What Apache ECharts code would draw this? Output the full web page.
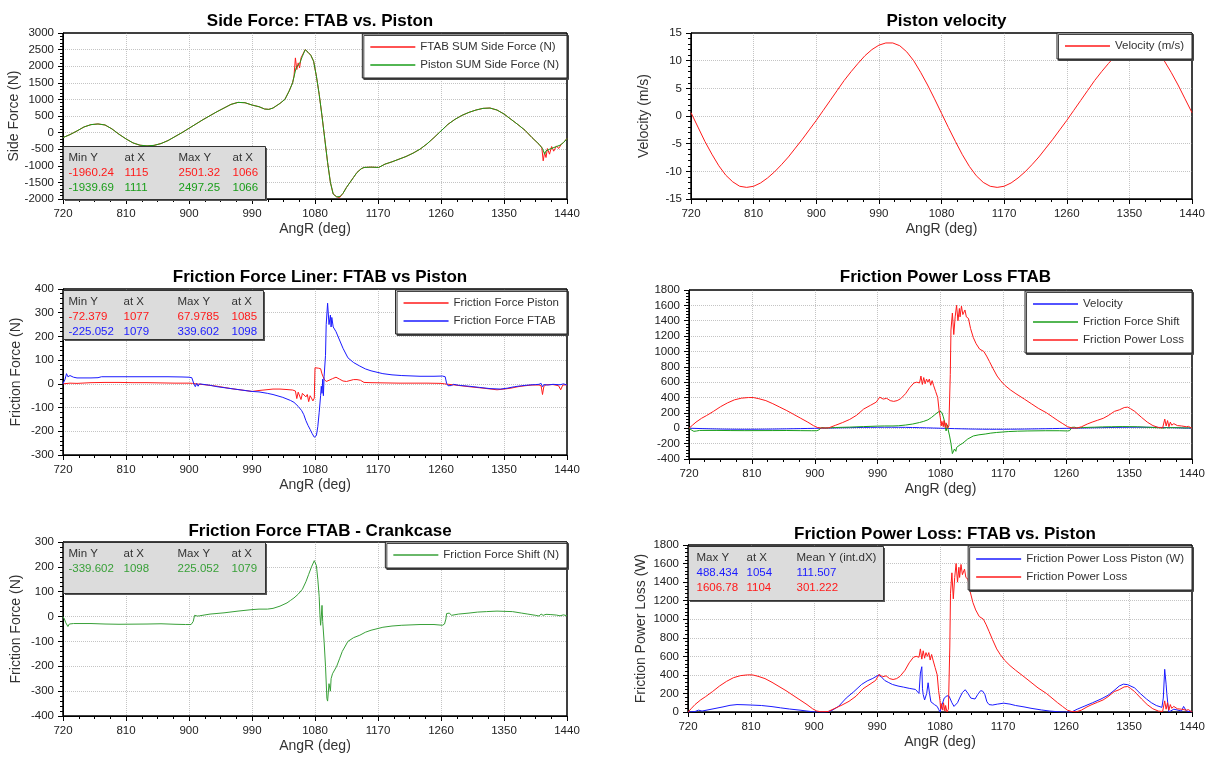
<!DOCTYPE html>
<html lang="en">
<head>
<meta charset="UTF-8">
<title>FTAB vs Piston</title>
<script src="https://cdn.jsdelivr.net/npm/echarts@6/dist/echarts.min.js"></script>
</head>
<body style="margin:0">
<div id="main" style="width:1214px;height:758px;"></div>
<script type="text/javascript">
// data: [AngR (deg), value]
var sideFtab = [[720,-150],[730,-60],[740,50],[750,170],[760,240],[770,260],[780,230],[790,110],[800,-50],[810,-190],[820,-310],[830,-380],[840,-400],[850,-385],[860,-330],[870,-240],[880,-120],[890,0],[900,130],[910,260],[920,390],[930,510],[940,630],[950,740],[960,850],[970,910],[980,900],[990,830],[1000,780],[1008,710],[1014,700],[1020,740],[1030,880],[1037,1000],[1043,1250],[1048,1500],[1050,1700],[1052,2250],[1054,1900],[1056,2100],[1058,1950],[1060,2250],[1062,2300],[1066,2501],[1070,2420],[1074,2330],[1078,2150],[1082,1700],[1086,1150],[1090,500],[1094,-200],[1098,-900],[1102,-1500],[1106,-1850],[1111,-1930],[1115,-1960],[1120,-1830],[1125,-1650],[1130,-1500],[1135,-1350],[1140,-1200],[1146,-1090],[1150,-1050],[1160,-1040],[1171,-1050],[1180,-950],[1190,-880],[1200,-800],[1210,-720],[1220,-620],[1230,-500],[1240,-340],[1250,-150],[1260,50],[1270,250],[1280,400],[1290,520],[1300,610],[1310,680],[1320,730],[1330,740],[1340,680],[1350,560],[1360,400],[1370,240],[1380,70],[1390,-150],[1400,-350],[1404,-450],[1406,-850],[1408,-600],[1410,-750],[1412,-480],[1415,-650],[1418,-420],[1421,-560],[1425,-400],[1428,-480],[1432,-350],[1435,-300],[1440,-180]];
var sidePiston = [[720,-150],[730,-60],[740,50],[750,170],[760,240],[770,260],[780,230],[790,110],[800,-50],[810,-190],[820,-310],[830,-380],[840,-400],[850,-385],[860,-330],[870,-240],[880,-120],[890,0],[900,130],[910,260],[920,390],[930,510],[940,630],[950,740],[960,850],[970,910],[980,900],[990,830],[1000,780],[1008,710],[1014,700],[1020,740],[1030,880],[1037,1000],[1043,1250],[1048,1500],[1053,1950],[1058,2080],[1062,2300],[1066,2497],[1070,2420],[1074,2330],[1078,2150],[1082,1700],[1086,1150],[1090,500],[1094,-200],[1098,-900],[1102,-1500],[1106,-1850],[1111,-1940],[1116,-1920],[1120,-1830],[1125,-1650],[1130,-1500],[1135,-1350],[1140,-1200],[1146,-1090],[1150,-1050],[1160,-1040],[1171,-1050],[1180,-950],[1190,-880],[1200,-800],[1210,-720],[1220,-620],[1230,-500],[1240,-340],[1250,-150],[1260,50],[1270,250],[1280,400],[1290,520],[1300,610],[1310,680],[1320,730],[1330,740],[1340,680],[1350,560],[1360,400],[1370,240],[1380,70],[1390,-150],[1400,-350],[1405,-480],[1408,-650],[1410,-550],[1415,-500],[1420,-460],[1425,-420],[1430,-380],[1435,-300],[1440,-180]];

var velocity = [[720,0.6],[730,-2.0],[740,-4.6],[750,-6.9],[760,-9.0],[770,-10.7],[780,-11.9],[790,-12.7],[800,-12.9],[810,-12.7],[820,-12.1],[830,-11.2],[840,-10.1],[850,-8.8],[860,-7.4],[870,-5.8],[880,-4.2],[890,-2.5],[900,-0.8],[910,1.0],[920,2.8],[930,4.6],[940,6.4],[950,8.0],[960,9.5],[970,10.9],[980,12.0],[990,12.8],[1000,13.2],[1010,13.2],[1020,12.7],[1030,11.6],[1040,10.0],[1050,7.9],[1060,5.6],[1070,3.1],[1080,0.5],[1090,-2.1],[1100,-4.6],[1110,-7.0],[1120,-9.1],[1130,-10.8],[1140,-12.0],[1150,-12.7],[1160,-12.9],[1170,-12.7],[1180,-12.1],[1190,-11.2],[1200,-10.1],[1210,-8.8],[1220,-7.4],[1230,-5.8],[1240,-4.2],[1250,-2.5],[1260,-0.8],[1270,1.0],[1280,2.8],[1290,4.6],[1300,6.4],[1310,8.0],[1320,9.5],[1330,10.9],[1340,12.0],[1350,12.8],[1360,13.2],[1370,13.2],[1380,12.7],[1390,11.6],[1400,10.0],[1410,7.9],[1420,5.6],[1430,3.1],[1440,0.6]];

var fricPiston = [[720,0],[730,3],[740,2],[760,5],[780,6],[800,6],[820,5],[840,5],[860,4],[880,3],[900,3],[905,2],[910,0],[920,-3],[940,-10],[960,-20],[980,-28],[990,-32],[1000,-28],[1010,-25],[1020,-22],[1030,-22],[1040,-24],[1048,-26],[1052,-30],[1054,-62],[1056,-35],[1058,-28],[1060,-66],[1062,-40],[1064,-35],[1067,-55],[1069,-45],[1071,-75],[1073,-50],[1075,-60],[1077,-72],[1079,-60],[1080,68],[1085,66],[1088,64],[1090,42],[1093,20],[1096,10],[1100,15],[1105,22],[1110,28],[1115,20],[1120,12],[1125,10],[1130,14],[1135,18],[1140,18],[1145,15],[1150,6],[1160,5],[1180,4],[1200,3],[1220,3],[1240,3],[1260,2],[1265,0],[1280,-5],[1300,-12],[1320,-18],[1340,-25],[1350,-22],[1360,-18],[1370,-12],[1380,-8],[1390,-5],[1400,-5],[1403,-8],[1405,-45],[1407,-10],[1410,-4],[1420,-3],[1428,-8],[1431,-25],[1434,-5],[1440,-4]];
var fricFtab = [[720,0],[723,20],[725,43],[727,30],[730,35],[735,28],[740,25],[760,25],[770,26],[775,30],[800,30],[840,30],[870,30],[890,29],[900,28],[904,26],[907,0],[909,-12],[911,2],[913,-10],[915,0],[920,-2],[930,-6],[940,-12],[950,-16],[960,-20],[970,-24],[980,-28],[990,-32],[1000,-34],[1012,-40],[1020,-45],[1034,-57],[1045,-70],[1050,-78],[1056,-95],[1061,-113],[1064,-130],[1067,-155],[1070,-175],[1073,-192],[1076,-210],[1079,-225],[1082,-218],[1084,-180],[1086,-120],[1088,-50],[1089,-10],[1090,-40],[1091,20],[1092,-50],[1093,30],[1095,120],[1096,250],[1098,340],[1100,250],[1102,290],[1103,240],[1104,280],[1106,240],[1110,220],[1115,185],[1120,150],[1127,110],[1135,90],[1144,75],[1152,63],[1160,55],[1177,43],[1190,38],[1204,35],[1230,32],[1250,32],[1262,33],[1266,30],[1268,2],[1270,-8],[1272,0],[1275,-7],[1278,-2],[1285,-6],[1300,-10],[1315,-15],[1330,-20],[1345,-22],[1355,-18],[1365,-12],[1375,-8],[1385,-5],[1395,-3],[1400,-2],[1403,2],[1405,-12],[1407,-3],[1412,-5],[1420,-2],[1430,-4],[1435,0],[1440,-5]];

var fricShift = [[720,0],[722,-10],[724,-25],[727,-40],[729,-30],[731,-35],[735,-28],[740,-28],[760,-28],[780,-30],[800,-31],[840,-30],[860,-29],[880,-31],[895,-32],[903,-32],[906,-20],[908,5],[910,10],[912,2],[915,3],[930,10],[950,15],[970,22],[990,28],[1000,30],[1012,30],[1020,33],[1030,42],[1040,55],[1045,65],[1050,75],[1056,90],[1062,110],[1067,140],[1071,170],[1075,200],[1079,225],[1082,205],[1084,150],[1086,80],[1087,10],[1088,-35],[1089,0],[1090,45],[1091,-20],[1093,-100],[1095,-200],[1097,-330],[1098,-340],[1100,-270],[1102,-300],[1103,-250],[1105,-230],[1108,-215],[1111,-200],[1115,-170],[1119,-140],[1127,-100],[1135,-85],[1144,-75],[1152,-63],[1160,-55],[1177,-43],[1190,-38],[1204,-35],[1230,-32],[1250,-32],[1262,-35],[1265,-30],[1267,-10],[1268,12],[1270,5],[1272,14],[1275,5],[1285,10],[1300,14],[1312,18],[1325,20],[1340,22],[1350,21],[1362,20],[1375,14],[1384,10],[1395,5],[1400,2],[1403,10],[1406,5],[1410,9],[1417,8],[1425,6],[1430,3],[1435,7],[1440,3]];

var powerLoss = [[720,0],[725,40],[730,80],[738,130],[745,165],[755,220],[765,280],[775,330],[785,370],[795,392],[805,400],[812,400],[820,385],[830,360],[840,320],[850,275],[860,230],[870,180],[880,130],[890,80],[898,35],[904,10],[910,3],[920,5],[930,40],[940,75],[950,115],[960,170],[970,250],[980,300],[988,340],[993,405],[998,380],[1003,390],[1008,360],[1013,350],[1018,360],[1023,385],[1030,450],[1036,530],[1042,590],[1046,600],[1050,590],[1052,680],[1054,570],[1056,660],[1058,580],[1060,640],[1062,600],[1064,640],[1066,560],[1068,620],[1070,560],[1073,480],[1076,400],[1078,230],[1080,120],[1081,30],[1082,90],[1084,20],[1085,100],[1087,10],[1088,70],[1090,0],[1092,30],[1094,700],[1095,1280],[1097,1500],[1099,1220],[1101,1450],[1103,1600],[1104,1607],[1105,1400],[1107,1560],[1108,1450],[1110,1590],[1112,1480],[1115,1540],[1117,1450],[1120,1430],[1123,1300],[1127,1180],[1131,1100],[1136,1030],[1142,1000],[1146,940],[1150,870],[1155,780],[1161,680],[1166,620],[1172,560],[1180,500],[1188,450],[1200,380],[1210,320],[1220,260],[1232,200],[1240,150],[1248,100],[1255,60],[1262,20],[1268,5],[1275,3],[1282,20],[1290,55],[1297,80],[1305,105],[1313,130],[1320,165],[1329,220],[1336,240],[1343,270],[1348,275],[1352,255],[1358,220],[1368,140],[1376,80],[1384,35],[1392,10],[1398,5],[1401,120],[1403,30],[1405,100],[1407,20],[1409,80],[1411,40],[1414,60],[1419,35],[1425,30],[1432,20],[1435,25],[1440,0]];
var powerLossPiston = [[720,0],[730,5],[735,20],[740,10],[750,25],[760,40],[770,55],[780,72],[790,80],[800,78],[810,75],[825,70],[840,58],[852,45],[865,32],[880,20],[890,10],[896,5],[902,0],[918,0],[924,10],[935,60],[946,150],[957,220],[968,297],[976,335],[984,362],[992,398],[996,380],[1001,340],[1006,320],[1012,297],[1020,280],[1028,268],[1036,255],[1045,243],[1050,200],[1052,420],[1054,488],[1055,250],[1056,188],[1058,130],[1061,200],[1063,315],[1065,200],[1067,110],[1072,80],[1076,60],[1078,30],[1080,0],[1083,80],[1086,150],[1090,175],[1093,170],[1097,100],[1100,60],[1102,50],[1105,100],[1108,150],[1112,210],[1116,240],[1120,200],[1124,150],[1130,140],[1134,190],[1138,230],[1141,225],[1144,190],[1147,110],[1150,80],[1155,75],[1162,85],[1171,95],[1180,85],[1188,70],[1200,55],[1210,40],[1225,22],[1237,10],[1250,2],[1258,0],[1268,0],[1276,30],[1287,65],[1298,100],[1310,140],[1320,180],[1330,240],[1336,280],[1342,300],[1348,295],[1358,260],[1366,200],[1375,140],[1382,100],[1389,70],[1397,50],[1399,150],[1401,460],[1403,300],[1404,200],[1406,50],[1407,0],[1414,30],[1420,20],[1425,10],[1428,60],[1430,70],[1432,10],[1434,0],[1440,0]];

// stats boxes
var statsSide = [["Min Y","at X","Max Y","at X"],["-1960.24","1115","2501.32","1066"],["-1939.69","1111","2497.25","1066"]];
var statsFric = [["Min Y","at X","Max Y","at X"],["-72.379","1077","67.9785","1085"],["-225.052","1079","339.602","1098"]];
var statsShift = [["Min Y","at X","Max Y","at X"],["-339.602","1098","225.052","1079"]];
var statsPower = [["Max Y","at X","Mean Y (int.dX)"],["488.434","1054","111.507"],["1606.78","1104","301.222"]];

var FONT = "Liberation Sans";
var RED = "#ff1a1a", GREEN = "#1a9e1a", GREEN2 = "#38a038", BLUE = "#1a1aff";

var myChart = echarts.init(document.getElementById("main"));

// grid boxes: left, top, width, height
var boxes = [
    [63, 33, 504, 166],
    [691, 33, 501, 166],
    [63, 289, 504, 166],
    [689, 290, 503, 169],
    [63, 542, 504, 174],
    [688, 545, 504, 167]
];
var yRanges = [[-2000, 3000, 500], [-15, 15, 5], [-300, 400, 100], [-400, 1800, 200], [-400, 300, 100], [0, 1800, 200]];
var yNames = ["Side Force (N)", "Velocity (m/s)", "Friction Force (N)", "", "Friction Force (N)", "Friction Power Loss (W)"];
var titles = ["Side Force: FTAB vs. Piston", "Piston velocity", "Friction Force Liner: FTAB vs Piston", "Friction Power Loss FTAB", "Friction Force FTAB - Crankcase", "Friction Power Loss: FTAB vs. Piston"];
var titleTops = [8, 8, 264, 264, 518, 521];

var splitStyle = {show: true, showMinLine: false, showMaxLine: false, lineStyle: {color: "#c4c4c4", type: "dotted", width: 1}};
var plain = function (v) { return String(v); };

function xAx(i) {
    return {
        type: "value", gridIndex: i, min: 720, max: 1440, interval: 90,
        name: "AngR (deg)", nameLocation: "middle", nameGap: 23,
        nameTextStyle: {fontSize: 14, color: "#333", fontFamily: FONT},
        axisLine: {show: true, onZero: false, lineStyle: {color: "#000"}},
        axisTick: {show: true, length: 5, lineStyle: {color: "#000"}},
        minorTick: {show: true, splitNumber: 4, length: 3, lineStyle: {color: "#000"}},
        axisLabel: {fontSize: 11.5, color: "#222", fontFamily: FONT, margin: 9, showMinLabel: true, showMaxLabel: true, formatter: plain},
        splitLine: splitStyle
    };
}
function yAx(i) {
    var r = yRanges[i];
    return {
        type: "value", gridIndex: i, min: r[0], max: r[1], interval: r[2],
        name: yNames[i], nameLocation: "middle", nameGap: 40,
        nameTextStyle: {fontSize: 14, color: "#333", fontFamily: FONT},
        axisLine: {show: true, onZero: false, lineStyle: {color: "#000"}},
        axisTick: {show: true, length: 5, lineStyle: {color: "#000"}},
        minorTick: {show: true, splitNumber: 5, length: 3, lineStyle: {color: "#000"}},
        axisLabel: {fontSize: 11.5, color: "#222", fontFamily: FONT, margin: 9, showMinLabel: true, showMaxLabel: true, formatter: plain},
        splitLine: splitStyle
    };
}
function line(name, data, color, i) {
    return {
        type: "line", name: name, data: data, xAxisIndex: i, yAxisIndex: i,
        symbol: "none", showSymbol: false, clip: true,
        lineStyle: {width: 1, color: color}, itemStyle: {color: color}
    };
}
function legendAt(right, top, names) {
    return {
        right: right, top: top, orient: "vertical", data: names, selectedMode: false,
        icon: "rect", itemWidth: 45, itemHeight: 1.5,
        backgroundColor: "#fff", borderColor: "#222", borderWidth: 1,
        shadowColor: "#444", shadowOffsetX: 1.5, shadowOffsetY: 1.5,
        padding: [7, 8], itemGap: 6,
        textStyle: {fontSize: 11.5, color: "#333", fontFamily: FONT}
    };
}
function frame(b) {
    // solid black plot border above the dotted grid lines
    return {type: "rect", z: 3, silent: true, shape: {x: b[0], y: b[1], width: b[2], height: b[3]},
        style: {fill: null, stroke: "#000", lineWidth: 1}};
}
function statsBox(x, y, w, h, colX, rows, colors) {
    var kids = [
        {type: "rect", z: 20, shape: {x: 1.5, y: 1.5, width: w, height: h}, style: {fill: "#555"}},
        {type: "rect", z: 21, shape: {x: 0, y: 0, width: w, height: h}, style: {fill: "#dcdcdc", stroke: "#333", lineWidth: 1}}
    ];
    rows.forEach(function (row, r) {
        row.forEach(function (t, c) {
            kids.push({type: "text", z: 22, x: colX[c], y: 11 + r * 15,
                style: {text: t, fill: colors[r], fontSize: 11.5, fontFamily: FONT, verticalAlign: "middle"}});
        });
    });
    return {type: "group", left: x, top: y, z: 20, children: kids};
}

var option = {
    animation: false,
    backgroundColor: "#fff",
    title: titles.map(function (t, i) {
        var b = boxes[i];
        return {text: t, left: b[0] + b[2] / 2, top: titleTops[i], textAlign: "center",
            textStyle: {fontSize: 17, fontWeight: "bold", color: "#000", fontFamily: FONT}};
    }),
    grid: boxes.map(function (b) {
        return {left: b[0], top: b[1], width: b[2], height: b[3], show: true, borderColor: "#000", borderWidth: 1, backgroundColor: "#fff"};
    }),
    xAxis: boxes.map(function (b, i) { return xAx(i); }),
    yAxis: boxes.map(function (b, i) { return yAx(i); }),
    legend: [
        legendAt(647, 34, ["FTAB SUM Side Force (N)", "Piston SUM Side Force (N)"]),
        legendAt(22, 33, ["Velocity (m/s)"]),
        legendAt(647, 290, ["Friction Force Piston", "Friction Force FTAB"]),
        legendAt(22, 291, ["Velocity", "Friction Force Shift", "Friction Power Loss"]),
        legendAt(647, 542, ["Friction Force Shift (N)"]),
        legendAt(22, 546, ["Friction Power Loss Piston (W)", "Friction Power Loss"])
    ],
    graphic: boxes.map(frame).concat([
        statsBox(63, 146, 202, 53, [5, 61, 115, 169], statsSide, ["#333", RED, GREEN]),
        statsBox(63, 290, 200, 49, [5, 60, 114, 168], statsFric, ["#333", RED, BLUE]),
        statsBox(63, 542, 202, 51, [5, 60, 114, 168], statsShift, ["#333", GREEN2]),
        statsBox(688, 546, 195, 54, [8, 58, 108], statsPower, ["#333", BLUE, RED])
    ]),
    series: [
        line("FTAB SUM Side Force (N)", sideFtab, RED, 0),
        line("Piston SUM Side Force (N)", sidePiston, GREEN, 0),
        line("Velocity (m/s)", velocity, RED, 1),
        line("Friction Force Piston", fricPiston, RED, 2),
        line("Friction Force FTAB", fricFtab, BLUE, 2),
        line("Velocity", velocity, BLUE, 3),
        line("Friction Force Shift", fricShift, GREEN, 3),
        line("Friction Power Loss", powerLoss, RED, 3),
        line("Friction Force Shift (N)", fricShift, GREEN2, 4),
        line("Friction Power Loss Piston (W)", powerLossPiston, BLUE, 5),
        line("Friction Power Loss", powerLoss, RED, 5)
    ]
};

myChart.setOption(option);
</script>
</body>
</html>
